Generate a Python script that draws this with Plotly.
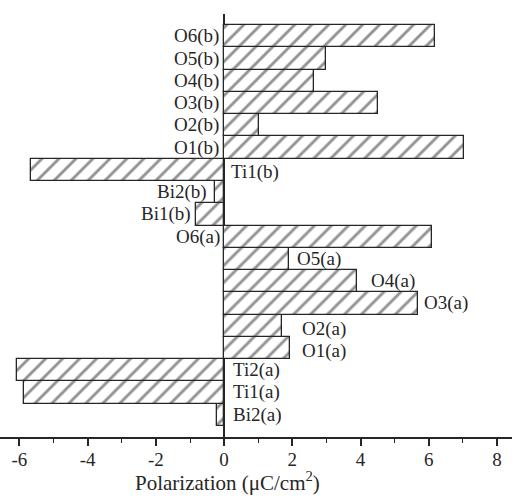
import plotly.graph_objects as go

labels = ["Bi2(a)", "Ti1(a)", "Ti2(a)", "O1(a)", "O2(a)", "O3(a)", "O4(a)", "O5(a)", "O6(a)",
          "Bi1(b)", "Bi2(b)", "Ti1(b)", "O1(b)", "O2(b)", "O3(b)", "O4(b)", "O5(b)", "O6(b)"]
values = [-0.21, -5.87, -6.07, 1.94, 1.69, 5.67, 3.90, 1.91, 6.10,
          -0.83, -0.26, -5.66, 7.02, 1.03, 4.52, 2.64, 2.98, 6.19]
tick_vals = [-6, -4, -2, 0, 2, 4, 6, 8]
tick_text = ["-6", "-4", "-2", "0", "2", "4", "6", "8"]

# label placement (annotation layout): x in data units and anchor side
label_x = [0.24, 0.24, 0.24, 2.25, 2.25, 5.82, 4.29, 2.11, -0.1,
           -0.94, -0.47, 0.18, -0.12, -0.12, -0.12, -0.12, -0.12, -0.12]
label_anchor = ["left", "left", "left", "left", "left", "left", "left", "left", "right",
                "right", "right", "left", "right", "right", "right", "right", "right", "right"]
label_dy = [0, 0, 0, -3, -3, 0, 0, 0, 0, 0, 0, -2, 0, 0, 0, 0, 0, 0]

FONT = "Liberation Serif, Times New Roman, serif"
INK = "#262626"
pos = list(range(len(labels)))

fig = go.Figure()
fig.add_trace(go.Bar(
    y=pos, x=values, orientation="h", width=1,
    marker=dict(color="white", line=dict(color=INK, width=1.3),
                pattern=dict(shape="/", fgcolor=INK, bgcolor="white", size=12, solidity=0.24)),
    showlegend=False,
))

for i, lab in enumerate(labels):
    fig.add_annotation(x=label_x[i], y=pos[i], text=lab, showarrow=False,
                       xanchor=label_anchor[i], yanchor="middle", yshift=label_dy[i],
                       font=dict(family=FONT, size=19, color=INK), borderpad=0)

fig.add_annotation(x=0.1, xref="x", y=-0.105, yref="paper", xanchor="center", yanchor="middle",
                   text="Polarization (μC/cm<sup>2</sup>)", showarrow=False,
                   font=dict(family=FONT, size=21, color=INK))

fig.update_layout(
    width=512, height=498,
    margin=dict(l=0, r=0, t=14, b=61),
    paper_bgcolor="white", plot_bgcolor="white",
    bargap=0,
    font=dict(family=FONT, size=19, color=INK),
    xaxis=dict(range=[-6.57, 8.44], tickmode="array", tickvals=tick_vals, ticktext=tick_text,
               showgrid=False, zeroline=True, automargin=False,
               zerolinecolor=INK, zerolinewidth=1.5,
               showline=True, linecolor=INK, linewidth=1.5,
               ticks="outside", ticklen=7, tickwidth=1.5, tickcolor=INK,
               ticklabelstandoff=-3,
               minor=dict(dtick=1, tick0=0, ticks="outside", ticklen=4, tickwidth=1.2, tickcolor=INK),
               tickfont=dict(family=FONT, size=19)),
    yaxis=dict(range=[-1, 18], showticklabels=False, showgrid=False, zeroline=False,
               showline=False, ticks="", automargin=False),
)

fig.write_html("out.html", config={"displayModeBar": False},
               post_script="document.body.style.margin='0px';")
